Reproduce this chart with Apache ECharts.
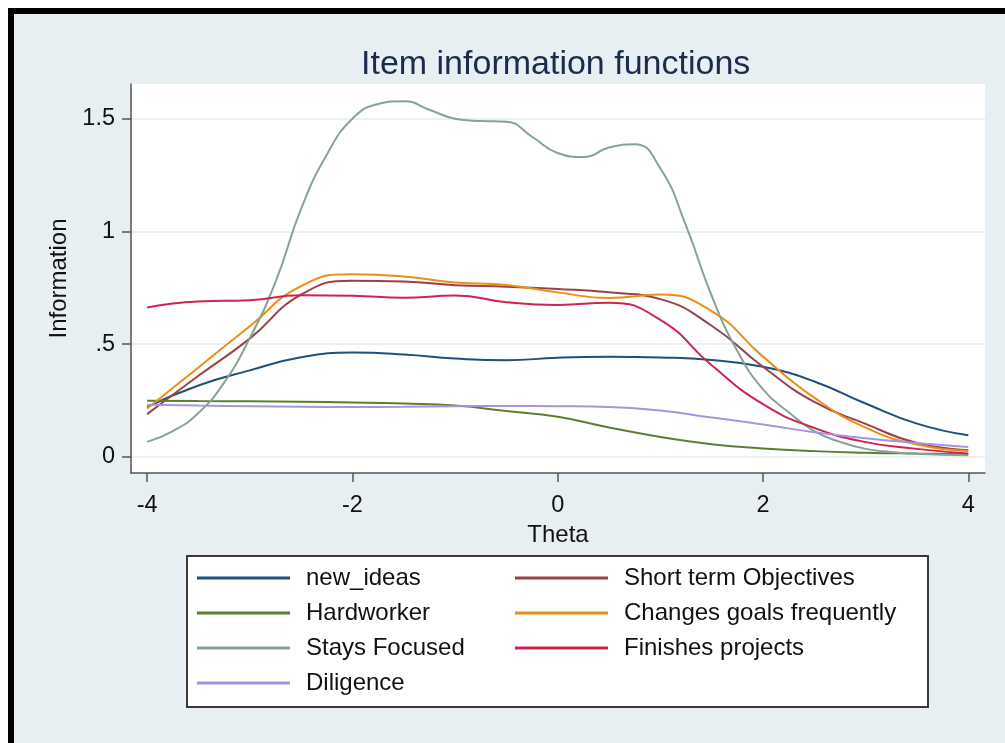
<!DOCTYPE html>
<html>
<head>
<meta charset="utf-8">
<title>Item information functions</title>
<script src="https://cdn.jsdelivr.net/npm/echarts@6/dist/echarts.min.js"></script>
<style>
  html, body { margin: 0; padding: 0; background: #fff; }
  .frame { position: absolute; left: 8px; top: 8px; width: 997px; height: 735px; background: #000; }
  .panel { position: absolute; left: 14px; top: 14px; width: 991px; height: 729px; background: #e8eff2; }
  .chart { position: absolute; left: 0; top: 0; width: 1005px; height: 743px; }
</style>
</head>
<body>
<div class="frame"></div>
<div class="panel"></div>
<div class="chart" id="chart"></div>
<script>
// theta grid (step .5) and a finer one for the steep curve
const theta = [-4, -3.5, -3, -2.5, -2, -1.5, -1, -0.5, 0, 0.5, 1, 1.5, 2, 2.5, 3, 3.5, 4]
const thetaFine = [-4, -3.75, -3.5, -3.25, -3, -2.75, -2.5, -2.25, -2, -1.75, -1.5, -1.25, -1, -0.75, -0.5, -0.25,
  0, 0.25, 0.5, 0.75, 1, 1.25, 1.5, 1.75, 2, 2.25, 2.5, 2.75, 3, 3.25, 3.5, 3.75, 4]

const newIdeas = [0.222, 0.317, 0.384, 0.442, 0.463, 0.455, 0.437, 0.429, 0.44, 0.444, 0.441, 0.43, 0.40, 0.335, 0.237, 0.148, 0.096]
const shortTerm = [0.19, 0.36, 0.525, 0.72, 0.782, 0.778, 0.762, 0.755, 0.745, 0.73, 0.70, 0.582, 0.40, 0.244, 0.147, 0.062, 0.03]
const hardworker = [0.249, 0.248, 0.247, 0.245, 0.242, 0.237, 0.228, 0.204, 0.178, 0.131, 0.089, 0.057, 0.038, 0.026, 0.019, 0.015, 0.012]
const changesGoals = [0.215, 0.397, 0.58, 0.758, 0.81, 0.80, 0.774, 0.763, 0.73, 0.705, 0.72, 0.647, 0.445, 0.263, 0.13, 0.055, 0.027]
const staysFocused = [0.067, 0.115, 0.195, 0.33, 0.527, 0.775, 1.10, 1.34, 1.50, 1.565, 1.578, 1.54, 1.50, 1.49, 1.487, 1.42,
  1.348, 1.33, 1.372, 1.387, 1.28, 1.026, 0.715, 0.47, 0.30, 0.198, 0.115, 0.067, 0.036, 0.022, 0.014, 0.01, 0.008]
const finishes = [0.663, 0.69, 0.695, 0.717, 0.715, 0.706, 0.716, 0.686, 0.674, 0.684, 0.608, 0.407, 0.234, 0.129, 0.066, 0.036, 0.015]
const diligence = [0.232, 0.228, 0.225, 0.223, 0.222, 0.223, 0.225, 0.226, 0.225, 0.222, 0.206, 0.175, 0.144, 0.11, 0.083, 0.062, 0.044]

const xTicks = [-4, -2, 0, 2, 4]
const yTicks = [0, 0.5, 1, 1.5]

const names = ['new_ideas', 'Short term Objectives', 'Hardworker', 'Changes goals frequently',
  'Stays Focused', 'Finishes projects', 'Diligence']
const colors = ['#1f4f7c', '#9a4148', '#5d7d35', '#ee8d16', '#86a397', '#d1234f', '#a596de']

const font = '"Liberation Sans", Arial, sans-serif'
const axisColor = '#555'

function pairs (xs, ys) {
  return xs.map((x, i) => [x, ys[i]])
}

const seriesData = [
  pairs(theta, newIdeas),
  pairs(theta, shortTerm),
  pairs(theta, hardworker),
  pairs(theta, changesGoals),
  pairs(thetaFine, staysFocused),
  pairs(theta, finishes),
  pairs(theta, diligence)
]

const legendBase = {
  orient: 'vertical',
  top: 566,
  padding: 0,
  icon: 'rect',
  itemWidth: 93,
  itemHeight: 3,
  itemGap: 11,
  selectedMode: false,
  textStyle: { fontSize: 24, lineHeight: 24, color: '#111', fontFamily: font, padding: [0, 0, 0, 11] }
}

const chart = echarts.init(document.getElementById('chart'))
chart.setOption({
  backgroundColor: 'transparent',
  animation: false,
  color: colors,
  title: {
    text: 'Item information functions',
    left: 361,
    top: 48,
    padding: 0,
    textStyle: { fontSize: 34, fontWeight: 'normal', color: '#1a2b4c', fontFamily: font }
  },
  graphic: [{
    type: 'rect',
    z: -1,
    shape: { x: 187, y: 556, width: 741, height: 151 },
    style: { fill: '#fff', stroke: '#3a3a3a', lineWidth: 2 }
  }],
  legend: [
    Object.assign({ left: 197, data: [names[0], names[2], names[4], names[6]] }, legendBase),
    Object.assign({ left: 515, data: [names[1], names[3], names[5]] }, legendBase)
  ],
  grid: {
    left: 131,
    right: 20,
    top: 84,
    bottom: 270,
    show: true,
    backgroundColor: '#fff',
    borderWidth: 0
  },
  xAxis: {
    type: 'value',
    min: -4.157,
    max: 4.163,
    name: 'Theta',
    nameLocation: 'middle',
    nameGap: 38,
    nameTextStyle: { fontSize: 24, color: '#111', fontFamily: font },
    axisLine: { show: true, onZero: false, lineStyle: { color: axisColor, width: 1.5 } },
    axisTick: { show: true, length: 9, customValues: xTicks, lineStyle: { color: axisColor, width: 1.5 } },
    axisLabel: { customValues: xTicks, margin: 21, fontSize: 23.5, color: '#111', fontFamily: font },
    splitLine: { show: false }
  },
  yAxis: {
    type: 'value',
    min: -0.071,
    max: 1.654,
    name: 'Information',
    nameLocation: 'middle',
    nameGap: 60,
    nameTextStyle: { fontSize: 24, color: '#111', fontFamily: font },
    axisLine: { show: true, onZero: false, lineStyle: { color: axisColor, width: 1.5 } },
    axisTick: { show: true, length: 9, customValues: yTicks, lineStyle: { color: axisColor, width: 1.5 } },
    axisLabel: {
      customValues: yTicks,
      margin: 16,
      fontSize: 23.5,
      color: '#111',
      fontFamily: font,
      formatter: (v) => String(v).replace(/^0\./, '.')
    },
    splitLine: { show: true, lineStyle: { color: '#e3ecef', width: 1.5 } }
  },
  series: names.map((name, i) => ({
    name: name,
    type: 'line',
    data: seriesData[i],
    smooth: true,
    symbol: 'none',
    lineStyle: { width: 2, color: colors[i] }
  }))
})
</script>
</body>
</html>
